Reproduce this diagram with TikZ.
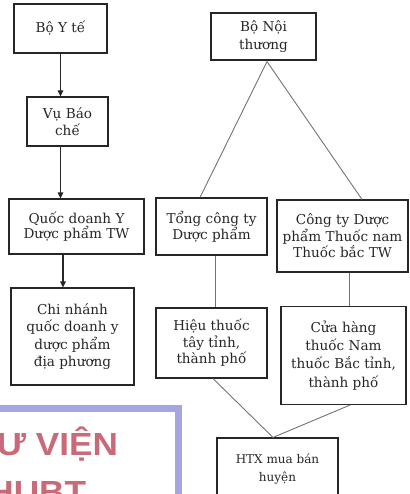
\documentclass[tikz,border=0pt]{standalone}
\usepackage{fontspec}
\setmainfont{DejaVu Serif}
\setsansfont{Liberation Sans}
\usetikzlibrary{arrows.meta}
\definecolor{wmred}{HTML}{C86A78}
\definecolor{wmblue}{HTML}{A4A6E2}
\begin{document}
\begin{tikzpicture}[x=1pt,y=-1pt,
 box/.style={draw=black!85, line width=1.1pt, align=center, inner sep=0pt, font=\fontsize{13.6}{16.5}\selectfont, text=black!85},
 arr/.style={draw=black!85, line width=1.1pt, -{Triangle[length=6pt,width=5.5pt]}},
 conn/.style={draw=black!55, line width=0.9pt},
 wmtext/.style={font=\sffamily\bfseries\fontsize{32}{32}\selectfont, text=wmred, anchor=base east, xscale=1.1, transform shape}]
\useasboundingbox (0,0) rectangle (409,494);
\clip (0,0) rectangle (409,494);
% left column
\node[box, minimum width=93pt, minimum height=49pt] (byt) at (60.5,28.5) {Bộ Y tế};
\node[box, minimum width=81pt, minimum height=49pt] (vbc) at (67.5,121.5) {Vụ Báo\\chế};
\node[box, minimum width=135pt, minimum height=55pt, font=\fontsize{13.6}{14.8}\selectfont] (qd) at (76.5,226.5) {Quốc doanh Y\\Dược phẩm TW};
\node[box, minimum width=123pt, minimum height=97pt, font=\fontsize{13.6}{17.5}\selectfont] (cn) at (72.5,336.5) {Chi nhánh\\quốc doanh y\\dược phẩm\\địa phương};
% right part
\node[box, minimum width=105pt, minimum height=47pt, font=\fontsize{13.6}{18}\selectfont] (bnt) at (263.5,36.5) {Bộ Nội\\thương};
\node[box, minimum width=111pt, minimum height=57pt, font=\fontsize{13.6}{15.2}\selectfont] (tct) at (211.5,226.5) {Tổng công ty\\Dược phẩm};
\node[box, minimum width=131pt, minimum height=72pt] (ctd) at (342.5,236) {Công ty Dược\\phẩm Thuốc nam\\Thuốc bắc TW};
\node[box, minimum width=111pt, minimum height=70pt] (ht) at (211.5,343) {Hiệu thuốc\\tây tỉnh,\\thành phố};
\node[box, minimum width=125pt, minimum height=98pt, font=\fontsize{13.6}{18.2}\selectfont] (ch) at (343.5,355.5) {Cửa hàng\\thuốc Nam\\thuốc Bắc tỉnh,\\thành phố};
\node[box, minimum width=121pt, minimum height=62pt, font=\fontsize{12}{18}\selectfont] (htx) at (277.5,469) {HTX mua bán\\huyện};
% arrows left
\draw[arr] (byt.south) -- (byt.south |- vbc.north);
\draw[arr] (vbc.south -| byt.south) -- (byt.south |- qd.north);
\draw[arr] ([xshift=-13.5pt]qd.south) -- ([xshift=-13.5pt]qd.south |- cn.north);
% connectors right
\coordinate (apex) at ([xshift=3.5pt,yshift=-1pt]bnt.south);
\draw[conn] (apex) -- ([xshift=-11.5pt]tct.north);
\draw[conn] (apex) -- ([xshift=19.5pt]ctd.north);
\draw[conn] ([xshift=3.5pt]tct.south) -- ([xshift=3.5pt]tct.south |- ht.north);
\draw[conn] ([xshift=6.5pt]ctd.south) -- ([xshift=6.5pt]ctd.south |- ch.north);
\coordinate (join) at ([xshift=-4.5pt]htx.north);
\draw[conn] ([xshift=1.5pt]ht.south) -- (join);
\draw[conn] ([xshift=6.5pt]ch.south) -- (join);
% watermark
\draw[wmblue, line width=7pt] (-20,408.5) -- (178.5,408.5) -- (178.5,520);
\node[wmtext] (wm1) at (122,455) {THƯ VIỆN};
\node[wmtext] (wm2) at (90,503) {HUBT};
\end{tikzpicture}
\end{document}
